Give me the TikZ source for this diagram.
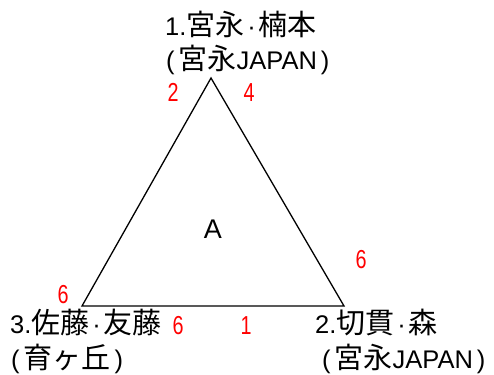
\documentclass[tikz,border=0pt]{standalone}
\usepackage{fontspec}
\setmainfont{Liberation Sans}
\newfontfamily\cjkf{Noto Sans CJK JP}
\newcommand{\J}[1]{{\cjkf\fontsize{29}{31}\selectfont #1}}
\newcommand{\Dot}{\hspace{3pt}·\hspace{3pt}}
\newcommand{\rnum}[1]{\scalebox{0.76}[1]{#1}}
\begin{document}
\begin{tikzpicture}[x=1pt,y=-1pt,
  lbl/.style={inner sep=0pt,anchor=base west,font=\fontsize{25.5}{30}\selectfont},
  num/.style={inner sep=0pt,anchor=base,text=red,font=\fontsize{26}{28}\selectfont},
  edge/.style={draw=black,line width=1.3pt,line join=miter}]
\useasboundingbox (0,0) rectangle (494,374);
\coordinate (T) at (211,78);
\coordinate (L) at (82,306);
\coordinate (R) at (344,306);
\draw[edge] (T) -- (R) -- (L) -- cycle;
\node[lbl] (t1) at (165,36) {1.\J{宮永}\Dot\J{楠本}};
\node[lbl] (t2) at (166,70) {(\hspace{4pt}\J{宮永}JAPAN\hspace{4pt})};
\node[num] (n2) at (173,102) {\rnum{2}};
\node[num] (n4) at (249,102) {\rnum{4}};
\node[num] (nl) at (63,303) {\rnum{6}};
\node[num] (nr) at (361,268) {\rnum{6}};
\node[num] (nb6) at (178,334) {\rnum{6}};
\node[num] (nb1) at (246,334) {\rnum{1}};
\node[inner sep=0pt,anchor=base,font=\fontsize{27}{30}\selectfont] (A) at (213,238) {A};
\node[lbl] (b1) at (10,333) {3.\J{佐藤}\Dot\J{友藤}};
\node[lbl] (b2) at (11,368) {(\hspace{4pt}\J{育ヶ丘}\hspace{4pt})};
\node[lbl] (c1) at (315,333) {2.\J{切貫}\Dot\J{森}};
\node[lbl] (c2) at (322,368) {(\hspace{4pt}\J{宮永}JAPAN\hspace{4pt})};
\end{tikzpicture}
\end{document}
